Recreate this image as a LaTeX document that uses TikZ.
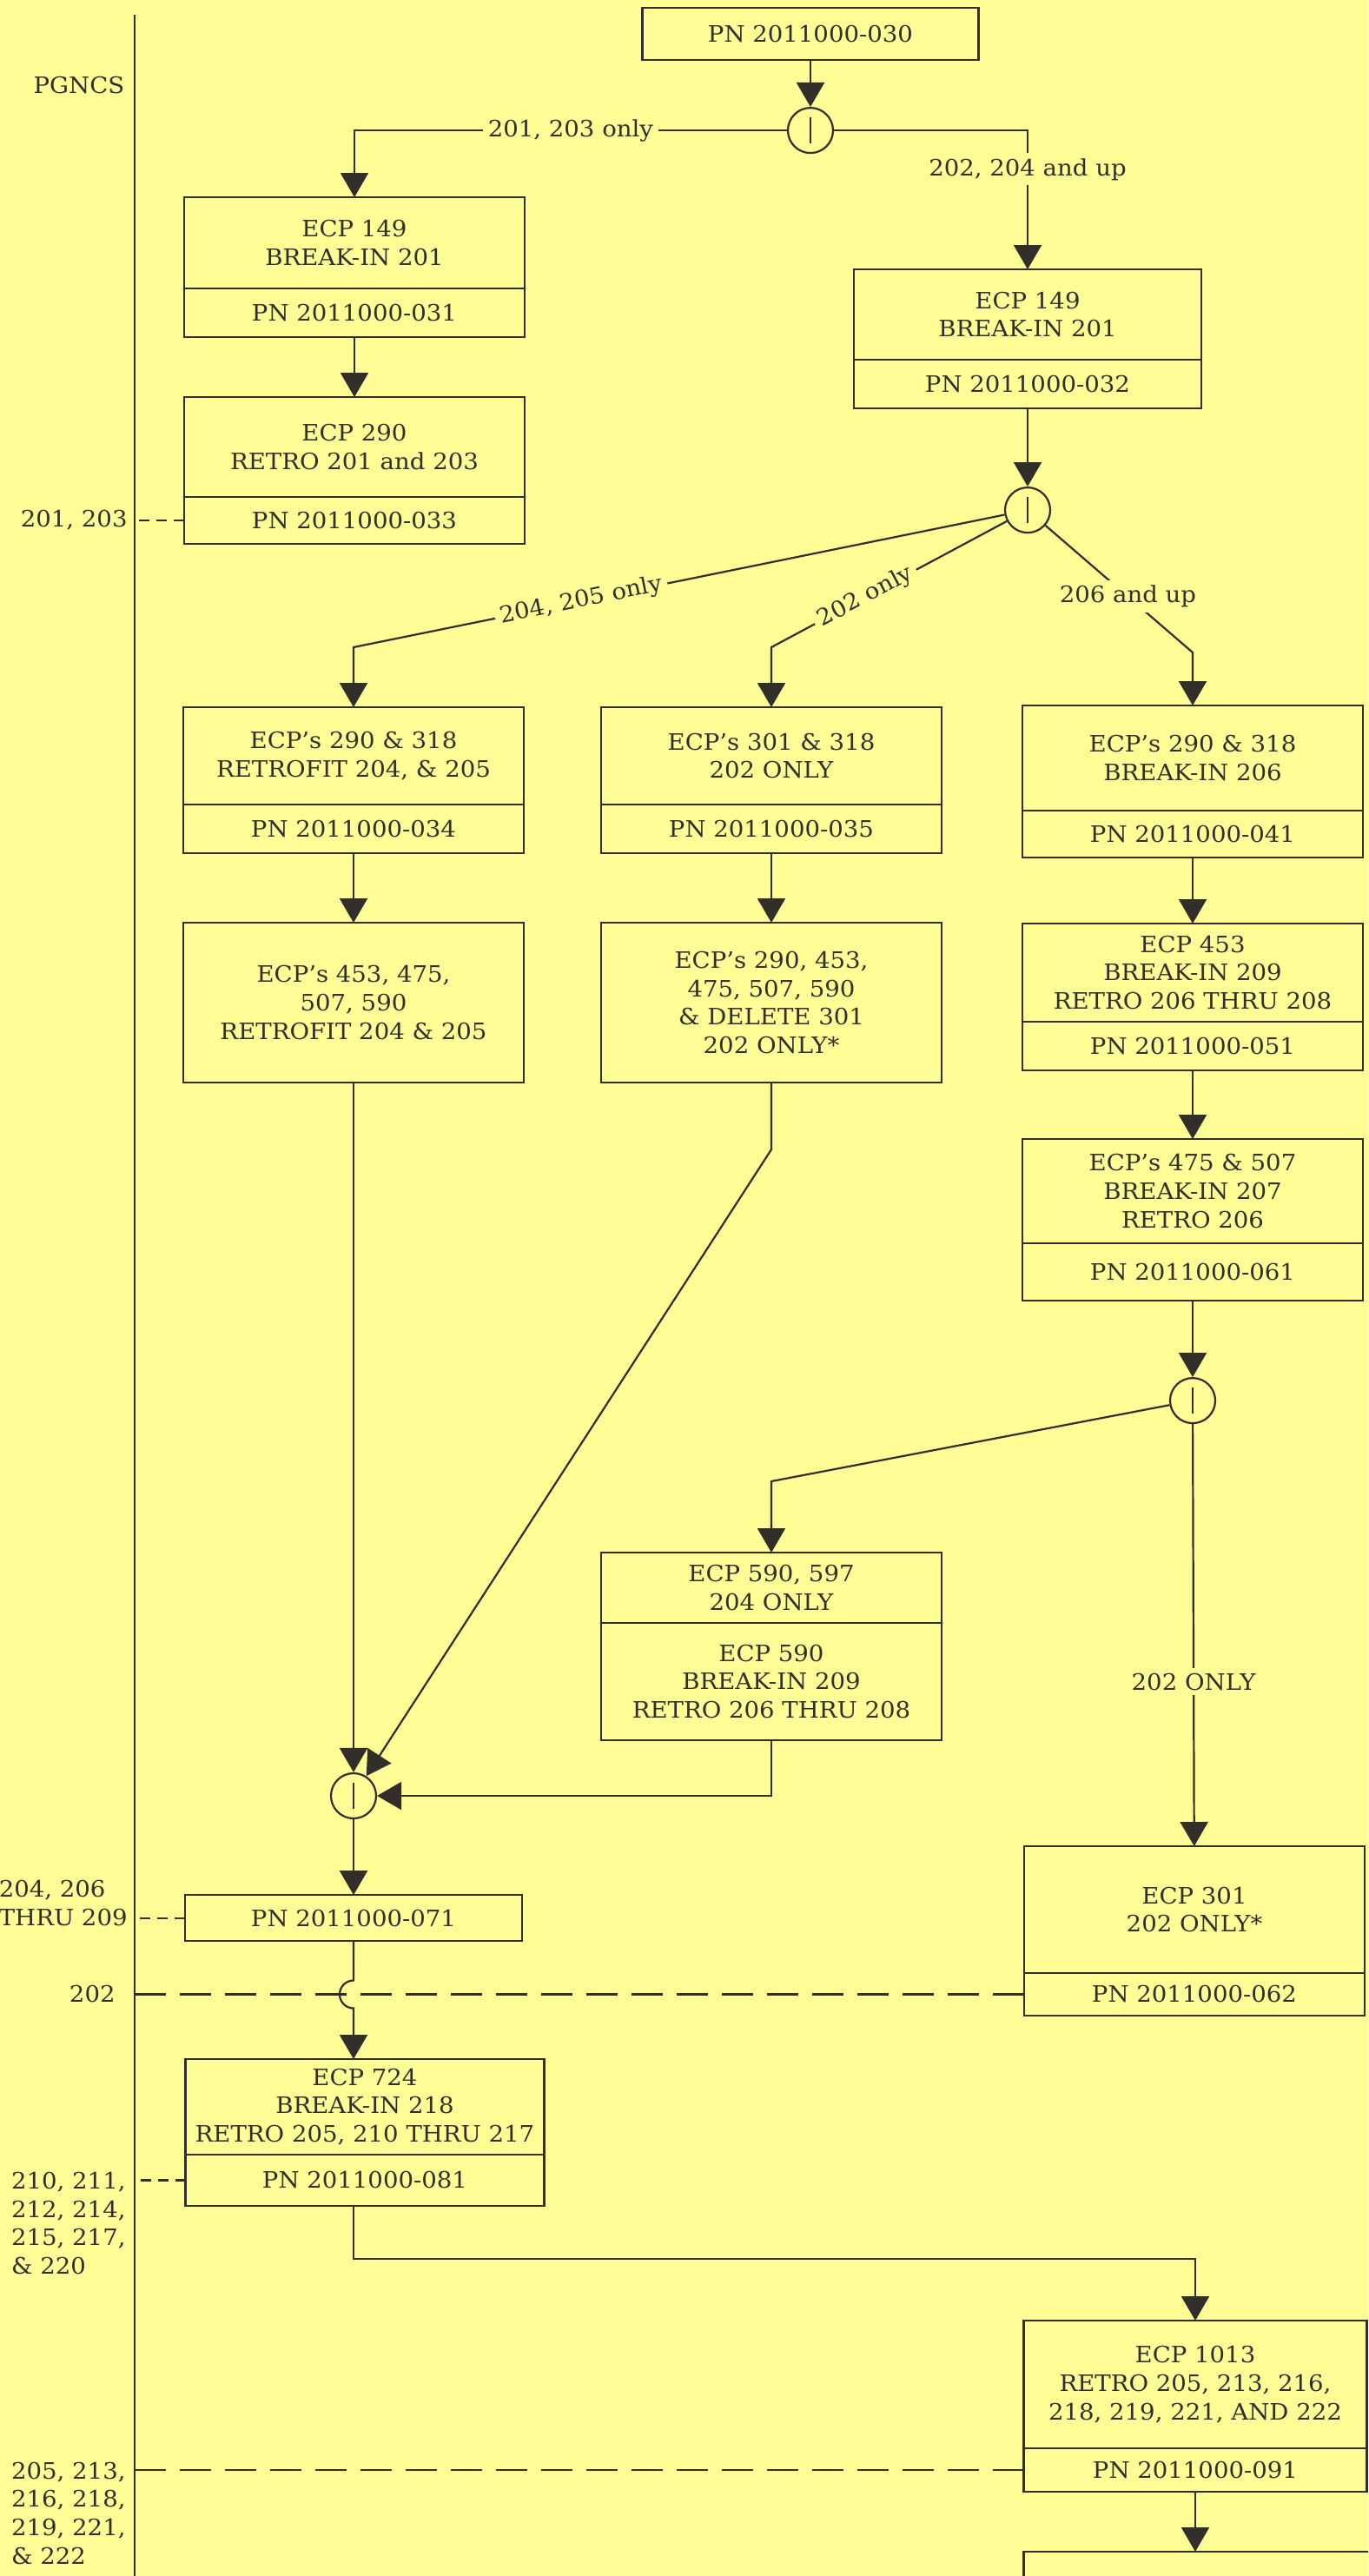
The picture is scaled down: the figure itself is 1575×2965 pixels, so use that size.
\documentclass[tikz,border=0pt]{standalone}
\usepackage{fontspec}
\setmainfont{DejaVu Serif}[FakeStretch = 1.06]
\usepackage{xcolor}
\usepackage{tikz}
\usetikzlibrary{positioning, arrows.meta}

\definecolor{bg}{RGB}{255,253,150}
\definecolor{ink}{RGB}{50,47,43}

\begin{document}
\begin{tikzpicture}  [
        x = 0.5pt, y = -0.5pt,
        font = \fontsize{13}{16.3}\selectfont,
        every node/.style = {text = ink},
        ecp/.style = {rectangle, draw = ink, line width = 1.1pt, outer sep = 0pt, align = center, minimum width = 196pt, inner sep = 2pt},
        pn/.style = {ecp, minimum height = 28pt},
        junc/.style = {circle, draw = ink, line width = 1.1pt, minimum size = 26pt, inner sep = 0pt},
        tag/.style = {fill = bg, inner sep = 3pt},
        side/.style = {align = left, inner sep = 0pt},
        wire/.style = {draw = ink, line width = 1.1pt},
        arr/.style = {wire, -{Triangle[length = 14pt, width = 16pt]}},
        shortdash/.style = {wire, dash pattern = on 6pt off 4pt},
        longdash/.style = {wire, dash pattern = on 18pt off 8pt}
    ]

    \path[use as bounding box, fill = bg] (0,0) rectangle (1575,2965);
    \clip (0,0) rectangle (1575,2965);

    % time line on the left
    \coordinate (tltop) at (155,17);
    \coordinate (tlbot) at (155,2965);
    \draw[wire, line width = 1.3pt] (tltop) -- (tlbot);
    \node (pg) at (91,98) {PGNCS};

    \node[pn, minimum width = 193.5pt, minimum height = 30pt, anchor = north] (t0) at (933,9) {PN 2011000-030};
    \node[junc, below = 27pt of t0] (j1) {};

    % left column
    \node[ecp, minimum height = 52.5pt, anchor = north] (a1) at (408,227) {ECP 149\\BREAK-IN 201};
    \node[pn,  below = 0pt of a1]     (a1p) {PN 2011000-031};
    \node[ecp, minimum height = 57.5pt, below = 34.5pt of a1p] (a2) {ECP 290\\RETRO 201 and 203};
    \node[pn,  minimum height = 27pt, below = 0pt of a2] (a2p) {PN 2011000-033};

    % right column, top
    \node[ecp, minimum width = 200pt, minimum height = 52pt, anchor = north] (b1) at (1183,310) {ECP 149\\BREAK-IN 201};
    \node[pn,  minimum width = 200pt, below = 0pt of b1] (b1p) {PN 2011000-032};
    \node[junc, below = 45pt of b1p]  (j2) {};

    % third row
    \node[ecp, minimum height = 56pt, anchor = north] (c1) at (407,814) {ECP's 290 \& 318\\RETROFIT 204, \& 205};
    \node[pn,  below = 0pt of c1]     (c1p) {PN 2011000-034};
    \node[ecp, minimum height = 56pt, anchor = north] (c3) at (888,814) {ECP's 301 \& 318\\202 ONLY};
    \node[pn,  below = 0pt of c3]     (c3p) {PN 2011000-035};
    \node[ecp, minimum height = 60.5pt, anchor = north] (c4) at (1373,812) {ECP's 290 \& 318\\BREAK-IN 206};
    \node[pn,  minimum height = 27pt, below = 0pt of c4] (c4p) {PN 2011000-041};

    \node[ecp, minimum height = 92pt, below = 40pt of c1p] (c2) {ECP's 453, 475,\\507, 590\\RETROFIT 204 \& 205};
    \node[ecp, minimum height = 92pt, below = 40pt of c3p] (c5) {ECP's 290, 453,\\475, 507, 590\\\& DELETE 301\\202 ONLY*};
    \node[ecp, minimum height = 56.5pt, below = 38pt of c4p] (c6) {ECP 453\\BREAK-IN 209\\RETRO 206 THRU 208};
    \node[pn,  below = 0pt of c6]     (c6p) {PN 2011000-051};
    \node[ecp, minimum height = 60pt, below = 39.5pt of c6p] (c7) {ECP's 475 \& 507\\BREAK-IN 207\\RETRO 206};
    \node[pn,  minimum height = 33pt, below = 0pt of c7] (c7p) {PN 2011000-061};
    \node[junc, below = 44pt of c7p]  (j3) {};

    \node[ecp, minimum height = 40.5pt, anchor = north] (c8) at (888,1787) {ECP 590, 597\\204 ONLY};
    \node[ecp, minimum height = 67.5pt, below = 0pt of c8] (c8b) {ECP 590\\BREAK-IN 209\\RETRO 206 THRU 208};
    \node[ecp, minimum height = 73pt, anchor = north] (c9) at (1375,2125) {ECP 301\\202 ONLY*};
    \node[pn,  minimum height = 24.5pt, below = 0pt of c9] (c9p) {PN 2011000-062};

    % lower part
    \node[junc] (j4) at (407,2067) {};
    \node[pn,  minimum width = 194pt, minimum height = 26.5pt, below = 43.5pt of j4] (d1) {PN 2011000-071};
    \node[ecp, minimum width = 206.5pt, minimum height = 55pt, anchor = north] (d2) at (420,2370) {ECP 724\\BREAK-IN 218\\RETRO 205, 210 THRU 217};
    \node[pn,  minimum width = 206.5pt, minimum height = 29.5pt, below = 0pt of d2] (d2p) {PN 2011000-081};
    \node[ecp, minimum width = 197.5pt, minimum height = 73.5pt, anchor = north] (c10) at (1376,2671) {ECP 1013\\RETRO 205, 213, 216,\\218, 219, 221, AND 222};
    \node[pn,  minimum width = 197.5pt, minimum height = 25pt, below = 0pt of c10] (c10p) {PN 2011000-091};
    \node[ecp, minimum width = 210pt, minimum height = 40pt, anchor = north west] (c11) at ([yshift = -34.5pt]c10p.south west) {};

    % junction bars
    \foreach \j in {j1, j2, j3, j4}
        \draw[wire] ([yshift = -6pt]\j.north) -- ([yshift = 6pt]\j.south);

    \draw[arr] (t0) -- (j1);
    \draw[arr] (j1.west) -| node[pos = 0.25, tag] (e1) {201, 203 only} (a1.north);
    \draw[arr] (j1.east) -| node[pos = 0.64, tag] (e2) {202, 204 and up} (b1.north);
    \draw[arr] (a1p) -- (a2);
    \draw[arr] (b1p) -- (j2);

    \coordinate[above = 34.5pt of c1.north] (k1);
    \coordinate[above = 34.5pt of c3.north] (k2);
    \coordinate[above = 30.5pt of c4.north] (k3);
    \draw[arr] (j2) -- node[pos = 0.65, sloped, tag] (e3) {204, 205 only} (k1) -- (c1.north);
    \draw[arr] (j2) -- node[pos = 0.6, sloped, tag] (e4) {202 only} (k2) -- (c3.north);
    \draw[arr] (j2) -- node[pos = 0.56, tag] (e5) {206 and up} (k3) -- (c4.north);

    \draw[arr] (c1p) -- (c2);
    \draw[arr] (c3p) -- (c5);
    \draw[arr] (c4p) -- (c6);
    \draw[arr] (c6p) -- (c7);
    \draw[arr] (c7p) -- (j3);

    \coordinate[above = 41pt of c8.north] (k4);
    \draw[arr] (j3) -- (k4) -- (c8.north);
    \draw[arr] (j3) -- node[pos = 0.61, tag] (e6) {202 ONLY} (c9);

    \coordinate[below = 38.5pt of c5.south] (k5);
    \draw[arr] (c5.south) -- (k5) -- (j4);
    \draw[arr] (c8b.south) |- (j4);
    \draw[arr] (c2) -- (j4);
    \draw[arr] (j4) -- (d1);

    \coordinate (hop) at (d1.south |- c9p.west);
    \draw[arr] (d1.south) -- ([yshift = 8pt]hop) arc[start angle = 90, end angle = 270, radius = 8pt] -- (d2.north -| d1.south);
    \draw[arr] (d2p.south -| d1.south) -- ++(0,-30.5pt) -| (c10.north);
    \draw[arr] (c10p) -- (c10p |- c11.north);

    % effectivity lines
    \coordinate (s1) at (a2p.west -| tltop);
    \draw[shortdash] (a2p.west) -- (s1);
    \node[side, left = 4pt of s1] (n1) {201, 203};

    \coordinate (s2) at (d1.west -| tltop);
    \draw[shortdash] (d1.west) -- (s2);
    \node[side, anchor = south east] (n2) at ([xshift = -4pt, yshift = -4.75pt]s2) {204, 206\\THRU 209};

    \coordinate (s3) at (c9p.west -| tltop);
    \draw[longdash] (c9p.west) -- (s3);
    \node[side, left = 11pt of s3] (n3) {202};

    \coordinate (s4) at (d2p.west -| tltop);
    \draw[shortdash] (d2p.west) -- (s4);
    \node[side, anchor = north east] (n4) at ([xshift = -5pt, yshift = 4.75pt]s4) {210, 211,\\212, 214,\\215, 217,\\\& 220};

    \coordinate (s5) at (c10p.west -| tltop);
    \draw[longdash] (c10p.west) -- (s5);
    \node[side, anchor = north east] (n5) at ([xshift = -5pt, yshift = 4.75pt]s5) {205, 213,\\216, 218,\\219, 221,\\\& 222};
%    \draw[arr] (c9p) -- (c10);

\end{tikzpicture}
\end{document}
